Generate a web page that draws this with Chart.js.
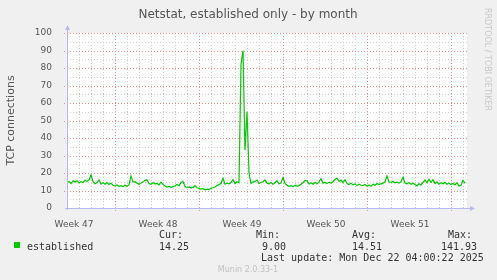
<!DOCTYPE html>
<html>
<head>
<meta charset="utf-8">
<script src="https://cdn.jsdelivr.net/npm/chart.js@4/dist/chart.umd.min.js"></script>
<style>
  html, body { margin: 0; padding: 0; background: #f0f0f0; }
  #netstatChart { display: block; }
</style>
</head>
<body>
<canvas id="netstatChart" width="497" height="280"></canvas>
<script>
// one sample every 4 hours, 200 samples over the month
const sampleHours = 4;
const established = [
  14.5, 15.2, 14.0, 15.5, 14.8, 15.6, 14.3, 15.0, 14.6, 15.8,
  15.2, 16.0, 18.9, 15.0, 13.9, 14.4, 16.0, 13.8, 14.5, 13.6,
  14.6, 13.5, 14.2, 13.0, 12.6, 13.2, 12.4, 12.8, 12.2, 13.0,
  12.4, 13.2, 18.3, 14.8, 15.0, 14.2, 13.6, 14.3, 14.8, 15.8,
  16.2, 14.0, 13.5, 14.4, 13.8, 14.0, 13.2, 14.8, 13.5, 12.6,
  12.0, 12.4, 11.8, 12.2, 12.6, 13.4, 12.8, 14.6, 15.2, 12.4,
  11.6, 12.0, 11.4, 11.8, 12.8, 11.6, 11.2, 10.8, 11.0, 10.4,
  10.8, 10.6, 11.2, 11.6, 12.0, 12.8, 13.4, 14.0, 17.0, 13.6,
  14.2, 13.8, 14.6, 16.2, 14.0, 15.0, 14.4, 82.0, 90.0, 33.0,
  55.0, 20.0, 14.0, 14.8, 15.2, 16.0, 14.0, 14.6, 15.0, 16.0,
  14.2, 13.8, 14.6, 13.6, 14.4, 15.6, 13.8, 14.2, 17.4, 14.0,
  13.0, 12.4, 12.8, 12.2, 13.0, 12.4, 12.8, 13.6, 14.4, 15.8,
  15.6, 13.8, 14.4, 13.6, 14.6, 13.8, 14.8, 16.8, 14.2, 14.6,
  14.0, 14.8, 14.2, 15.0, 16.4, 17.0, 15.2, 16.0, 14.4, 16.2,
  14.0, 13.4, 14.2, 13.2, 13.8, 12.8, 13.6, 13.0, 12.8, 13.4,
  12.6, 13.2, 12.4, 13.6, 13.0, 14.0, 13.4, 13.8, 14.2, 15.0,
  18.2, 15.0, 14.6, 15.2, 14.4, 14.8, 14.2, 15.0, 17.6, 14.2,
  13.8, 14.4, 13.6, 14.2, 13.4, 12.6, 13.8, 13.2, 14.6, 16.0,
  14.4, 16.4, 14.6, 16.2, 14.0, 14.8, 13.6, 14.4, 13.8, 14.6,
  13.6, 14.2, 13.4, 14.0, 13.2, 14.4, 12.6, 13.0, 15.8, 14.25
];
const weekLabels = ['Week 47', 'Week 48', 'Week 49', 'Week 50', 'Week 51'];
const weekLabelHours = [14, 182, 350, 518, 686];
const weekStartHours = [96, 264, 432, 600, 768];
const statLabels = ['Cur:', 'Min:', 'Avg:', 'Max:'];
const statValues = ['14.25', '9.00', '14.51', '141.93'];
const lastUpdate = 'Last update: Mon Dec 22 04:00:22 2025';

const totalHours = established.length * sampleHours;
const GREEN = '#00cc00';
const SANS = "'DejaVu Sans', sans-serif";
const MONO = "'DejaVu Sans Mono', monospace";

const muninPlugin = {
  id: 'munin',
  beforeDraw(chart) {
    const { ctx, chartArea: a } = chart;
    ctx.save();
    ctx.fillStyle = '#f0f0f0';
    ctx.fillRect(0, 0, chart.width, chart.height);
    ctx.fillStyle = '#ffffff';
    ctx.fillRect(a.left, a.top, a.right - a.left, a.bottom - a.top);
    ctx.restore();
  },
  beforeDatasetsDraw(chart) {
    const { ctx, chartArea: a, scales } = chart;
    const x = scales.x, y = scales.y;
    ctx.save();
    ctx.lineWidth = 1;
    ctx.setLineDash([1, 2]);
    // minor grid
    ctx.strokeStyle = '#d2d2d2';
    ctx.beginPath();
    for (let h = 24; h < totalHours; h += 24) {
      if (weekStartHours.includes(h)) continue;
      const px = Math.round(x.getPixelForValue(h)) + 0.5;
      ctx.moveTo(px, a.top); ctx.lineTo(px, a.bottom);
    }
    for (let v = 5; v <= 100; v += 10) {
      const py = Math.round(y.getPixelForValue(v)) + 0.5;
      ctx.moveTo(a.left, py); ctx.lineTo(a.right, py);
    }
    ctx.stroke();
    // major grid
    ctx.strokeStyle = '#e49494';
    ctx.beginPath();
    weekStartHours.forEach(h => {
      const px = Math.round(x.getPixelForValue(h)) + 0.5;
      ctx.moveTo(px, a.top); ctx.lineTo(px, a.bottom + 3);
    });
    for (let v = 10; v <= 100; v += 10) {
      const py = Math.round(y.getPixelForValue(v)) + 0.5;
      ctx.moveTo(a.left - 3, py); ctx.lineTo(a.right, py);
    }
    ctx.stroke();
    ctx.restore();
  },
  afterDraw(chart) {
    const { ctx, chartArea: a } = chart;
    ctx.save();
    // axes with arrows
    ctx.strokeStyle = '#b8b8f0';
    ctx.fillStyle = '#b8b8f0';
    ctx.lineWidth = 1;
    ctx.beginPath();
    ctx.moveTo(a.left + 0.5, a.bottom + 2); ctx.lineTo(a.left + 0.5, a.top - 4);
    ctx.moveTo(a.left - 2, a.bottom + 0.5); ctx.lineTo(a.right + 4, a.bottom + 0.5);
    ctx.stroke();
    ctx.beginPath();
    ctx.moveTo(a.left - 2, a.top - 3); ctx.lineTo(a.left + 3, a.top - 3); ctx.lineTo(a.left + 0.5, a.top - 8);
    ctx.closePath(); ctx.fill();
    ctx.beginPath();
    ctx.moveTo(a.right + 3, a.bottom - 2); ctx.lineTo(a.right + 3, a.bottom + 3); ctx.lineTo(a.right + 8, a.bottom + 0.5);
    ctx.closePath(); ctx.fill();

    // title
    ctx.fillStyle = '#555';
    ctx.font = '12px ' + SANS;
    ctx.textAlign = 'center';
    ctx.textBaseline = 'alphabetic';
    ctx.fillText('Netstat, established only - by month', 248, 18);

    // y axis title
    ctx.save();
    ctx.translate(14, (a.top + a.bottom) / 2);
    ctx.rotate(-Math.PI / 2);
    ctx.font = '11px ' + SANS;
    ctx.fillText('TCP connections', 0, 0);
    ctx.restore();

    // rrdtool watermark
    ctx.save();
    ctx.translate(485, 8);
    ctx.rotate(Math.PI / 2);
    ctx.fillStyle = '#c8c8c8';
    ctx.font = '8px ' + SANS;
    ctx.textAlign = 'left';
    ctx.fillText('RRDTOOL / TOBI OETIKER', 0, 0);
    ctx.restore();

    // legend
    ctx.fillStyle = GREEN;
    ctx.fillRect(14, 242, 6, 6);
    ctx.fillStyle = '#333';
    ctx.font = '10px ' + MONO;
    ctx.textAlign = 'left';
    ctx.fillText('established', 27, 250);
    const labelX = [159, 256, 352, 448];
    const valueX = [159, 262, 352, 441];
    statLabels.forEach((s, i) => ctx.fillText(s, labelX[i], 238));
    statValues.forEach((s, i) => ctx.fillText(s, valueX[i], 249.5));
    ctx.fillText(lastUpdate, 261, 260.5);

    ctx.fillStyle = '#c0c0c0';
    ctx.font = '8px ' + SANS;
    ctx.textAlign = 'center';
    ctx.fillText('Munin 2.0.33-1', 248, 272);
    ctx.restore();
  }
};

new Chart(document.getElementById('netstatChart'), {
  type: 'line',
  data: {
    datasets: [{
      label: 'established',
      data: established.map((v, i) => ({ x: i * sampleHours, y: v })),
      borderColor: GREEN,
      borderWidth: 1.2,
      pointRadius: 0,
      tension: 0,
      fill: false
    }]
  },
  options: {
    responsive: false,
    animation: false,
    events: [],
    layout: { padding: { top: 33, right: 30, left: 0, bottom: 0 } },
    plugins: { legend: { display: false }, tooltip: { enabled: false } },
    scales: {
      x: {
        type: 'linear',
        min: 0,
        max: totalHours,
        grid: { display: false },
        border: { display: false },
        afterBuildTicks: scale => { scale.ticks = weekLabelHours.map(v => ({ value: v })); },
        afterFit: scale => { scale.height = 72; },
        ticks: {
          autoSkip: false,
          maxRotation: 0,
          padding: 3,
          color: '#555',
          font: { family: SANS, size: 9 },
          callback: v => weekLabels[weekLabelHours.indexOf(v)]
        }
      },
      y: {
        min: 0,
        max: 100,
        grid: { display: false },
        border: { display: false },
        afterFit: scale => { scale.width = 67; },
        ticks: {
          stepSize: 10,
          padding: 7,
          color: '#555',
          font: { family: SANS, size: 9 }
        }
      }
    }
  },
  plugins: [muninPlugin]
});
</script>
</body>
</html>
